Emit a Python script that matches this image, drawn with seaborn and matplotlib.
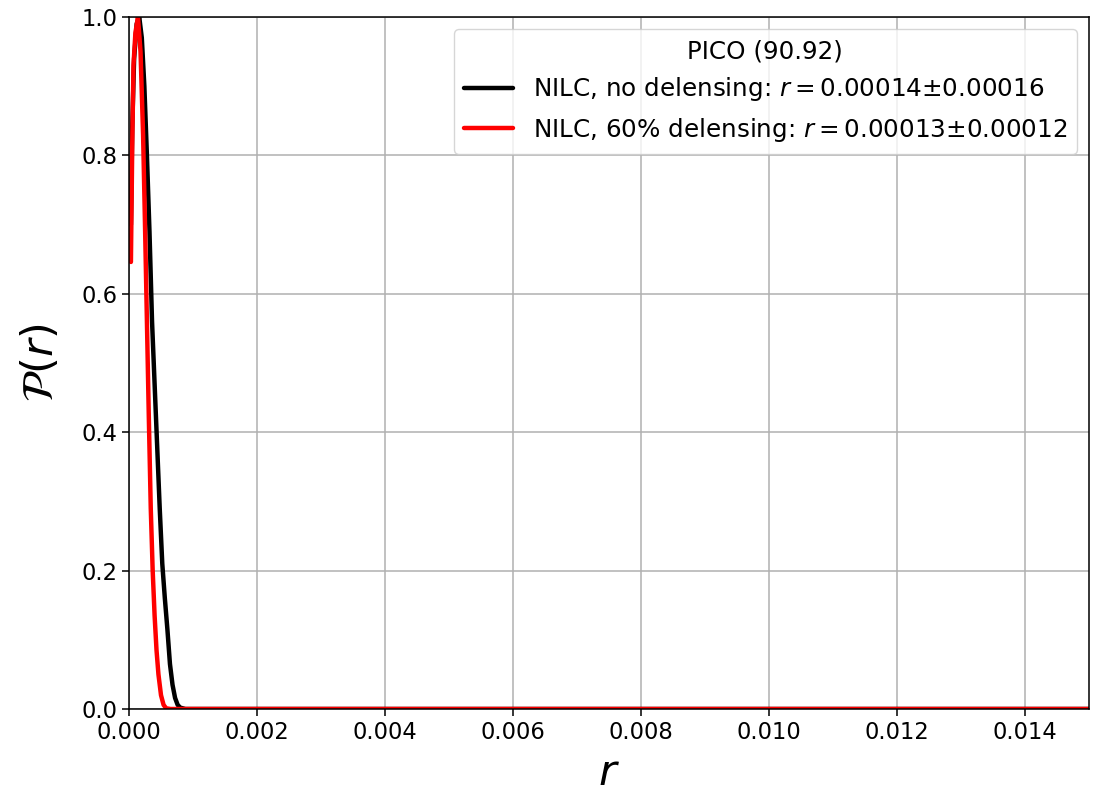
import matplotlib
matplotlib.use("Agg")
import matplotlib.pyplot as plt
import pandas as pd
import seaborn as sns

# Posterior of r, NILC without delensing
r_nodelens = [0.00003, 0.00005, 0.00008, 0.00012, 0.00016, 0.00020, 0.00024,
              0.00028, 0.00032, 0.00036, 0.00040, 0.00044, 0.00048, 0.00052,
              0.00056, 0.00060, 0.00064, 0.00068, 0.00072, 0.00076, 0.00080,
              0.00088, 0.015]
p_nodelens = [0.70, 0.84, 0.94, 0.99, 1.00, 0.97, 0.90,
              0.80, 0.69, 0.56, 0.47, 0.38, 0.29, 0.21,
              0.16, 0.115, 0.065, 0.035, 0.016, 0.006, 0.002,
              0.0, 0.0]

# Posterior of r, NILC with 60% delensing
r_delens = [0.00003, 0.00005, 0.00007, 0.00010, 0.00014, 0.00018, 0.00022,
            0.00025, 0.00028, 0.00031, 0.00034, 0.00037, 0.00040, 0.00043,
            0.00046, 0.00050, 0.00054, 0.00058, 0.00065, 0.015]
p_delens = [0.646, 0.81, 0.93, 0.977, 1.00, 0.95, 0.83,
            0.70, 0.56, 0.42, 0.29, 0.20, 0.135, 0.085,
            0.05, 0.02, 0.006, 0.001, 0.0, 0.0]

legend_title = "PICO (90.92)"
label_nodelens = "NILC, no delensing: $r = 0.00014$±0.00016"
label_delens = "NILC, 60% delensing: $r = 0.00013$±0.00012"

x_ticks = [0.000, 0.002, 0.004, 0.006, 0.008, 0.010, 0.012, 0.014]
y_ticks = [0.0, 0.2, 0.4, 0.6, 0.8, 1.0]

df = pd.concat([
    pd.DataFrame({"r": r_nodelens, "P": p_nodelens, "case": label_nodelens}),
    pd.DataFrame({"r": r_delens, "P": p_delens, "case": label_delens}),
], ignore_index=True)

sns.set_style("ticks")
plt.rcParams["font.family"] = ["DejaVu Sans"]
plt.rcParams["mathtext.fontset"] = "dejavusans"
for key in ("text.color", "axes.labelcolor", "xtick.color", "ytick.color",
            "legend.labelcolor"):
    plt.rcParams[key] = "black"

fig = plt.figure(figsize=(11.01, 7.99), dpi=100)
ax = fig.add_axes([129 / 1101, 1 - 709 / 799, (1089 - 129) / 1101, (709 - 17) / 799])

sns.lineplot(data=df, x="r", y="P", hue="case", sort=False, estimator=None,
             palette={label_nodelens: "black", label_delens: "red"},
             linewidth=3.2, ax=ax)

ax.set_xlim(0, 0.015)
ax.set_ylim(0, 1.0)
ax.set_xticks(x_ticks)
ax.set_xticklabels([f"{t:.3f}" for t in x_ticks])
ax.set_yticks(y_ticks)
ax.set_yticklabels([f"{t:.1f}" for t in y_ticks])
ax.tick_params(labelsize=16.3, length=5, width=1.1, direction="out", color="black")
ax.grid(True, color="#b0b0b0", linewidth=1.1)
for sp in ax.spines.values():
    sp.set_color("black")
    sp.set_linewidth(1.1)

ax.set_xlabel("$r$", fontsize=31, labelpad=6)
ax.set_ylabel(r"$\mathcal{P}(r)$", fontsize=31, labelpad=14)

leg = ax.legend(title=legend_title, loc="upper right", fontsize=17.7,
                title_fontsize=17.7, framealpha=0.8, handlelength=2.0)
for line in leg.get_lines():
    line.set_linewidth(3.2)

fig.savefig("out.png", dpi=100)
